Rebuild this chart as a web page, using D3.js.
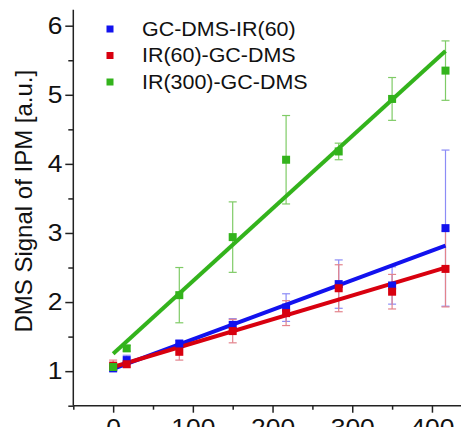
<!DOCTYPE html>
<html>
<head>
<meta charset="utf-8">
<script src="https://cdn.jsdelivr.net/npm/d3@7"></script>
<style>
  html, body { margin: 0; padding: 0; background: #fff; }
  svg { display: block; font-family: Arial, "Liberation Sans", sans-serif; }
</style>
</head>
<body>
<svg id="chart" width="461" height="427"></svg>
<script>
// Exposure time (x) and DMS signal of IPM for each setup
const times = [0, 17, 83, 150, 217, 283, 350, 417];

const seriesNames = ["GC-DMS-IR(60)", "IR(60)-GC-DMS", "IR(300)-GC-DMS"];
const seriesColors = ["#1212ee", "#d8000f", "#33b31c"];
const errorColors = ["#8c8cf6", "#e3838c", "#7fcb66"];

const gcDmsIr60 = [1.04, 1.16, 1.40, 1.67, 1.92, 2.26, 2.24, 3.07];
const gcDmsIr60Err = [0.03, 0.07, 0.04, 0.09, 0.20, 0.35, 0.27, 1.13];

const ir60GcDms = [1.08, 1.10, 1.28, 1.58, 1.84, 2.20, 2.15, 2.48];
const ir60GcDmsErr = [0.08, 0.04, 0.12, 0.17, 0.18, 0.34, 0.25, 0.55];

const ir300GcDms = [1.06, 1.33, 2.10, 2.94, 4.06, 4.18, 4.94, 5.35];
const ir300GcDmsErr = [0.05, 0.04, 0.40, 0.51, 0.64, 0.12, 0.31, 0.43];

const xMajorTicks = [0, 100, 200, 300, 400];
const xMinorTicks = [-50, 50, 150, 250, 350, 450];
const yMajorTicks = [1, 2, 3, 4, 5, 6];
const yMinorTicks = [0.5, 1.5, 2.5, 3.5, 4.5, 5.5];

const yTitle = "DMS Signal of IPM [a.u.]";

const series = [
  { name: seriesNames[0], values: gcDmsIr60, errors: gcDmsIr60Err, color: seriesColors[0], errColor: errorColors[0] },
  { name: seriesNames[1], values: ir60GcDms, errors: ir60GcDmsErr, color: seriesColors[1], errColor: errorColors[1] },
  { name: seriesNames[2], values: ir300GcDms, errors: ir300GcDmsErr, color: seriesColors[2], errColor: errorColors[2] }
];

const stretch = 1.1; // horizontal text widening

const svg = d3.select("#chart");

const x = d3.scaleLinear().domain([-50, 450]).range([73.3, 471.8]);
const y = d3.scaleLinear().domain([0.5, 6]).range([405.7, 25.7]);
const yTop = 6.23;

// least-squares straight line through each series
function linearFit(xs, ys) {
  const mx = d3.mean(xs), my = d3.mean(ys);
  let sxy = 0, sxx = 0;
  xs.forEach((xv, i) => { sxy += (xv - mx) * (ys[i] - my); sxx += (xv - mx) ** 2; });
  const slope = sxy / sxx;
  return { slope, intercept: my - slope * mx };
}

const axisColor = "#222";

// y axis
const yAxis = svg.append("g").attr("transform", `translate(${x(-50)},0)`);
yAxis.call(d3.axisLeft(y).tickValues(yMajorTicks).tickSize(8).tickSizeOuter(0).tickPadding(3).tickFormat(d3.format("d")));
yAxis.select(".domain").remove();
yAxis.append("line").attr("x1", 0).attr("x2", 0).attr("y1", y(yTop)).attr("y2", y(0.5))
  .attr("stroke", axisColor).attr("stroke-width", 1.5);
const yMinor = svg.append("g").attr("transform", `translate(${x(-50)},0)`);
yMinor.call(d3.axisLeft(y).tickValues(yMinorTicks).tickSize(5).tickFormat(""));
yMinor.select(".domain").remove();

// x axis
const xAxis = svg.append("g").attr("transform", `translate(0,${y(0.5)})`);
xAxis.call(d3.axisBottom(x).tickValues(xMajorTicks).tickSize(7).tickSizeOuter(0).tickPadding(6).tickFormat(d3.format("d")));
xAxis.select(".domain").remove();
xAxis.append("line").attr("x1", x(-50)).attr("x2", x(450)).attr("y1", 0).attr("y2", 0)
  .attr("stroke", axisColor).attr("stroke-width", 1.5);
const xMinor = svg.append("g").attr("transform", `translate(0,${y(0.5)})`);
xMinor.call(d3.axisBottom(x).tickValues(xMinorTicks).tickSize(4).tickFormat(""));
xMinor.select(".domain").remove();

svg.selectAll(".tick line").attr("stroke", axisColor).attr("stroke-width", 1.5);
svg.selectAll(".tick text")
  .attr("fill", "#111")
  .style("font-size", "24px")
  .style("font-family", "Arial, 'Liberation Sans', sans-serif")
  .each(function () {
    const t = d3.select(this);
    const xv = +t.attr("x") || 0;
    t.attr("x", xv / stretch).attr("transform", `scale(${stretch},1)`);
  });

// y axis title
svg.append("text")
  .attr("transform", `translate(32,${y(3.46)}) rotate(-90)`)
  .attr("text-anchor", "middle")
  .attr("fill", "#111")
  .style("font-size", "24px")
  .text(yTitle);

const plot = svg.append("g");

// error bars
series.forEach(s => {
  const g = plot.append("g").attr("stroke", s.errColor).attr("stroke-width", 1.2).attr("fill", "none");
  times.forEach((t, i) => {
    const cx = x(t), lo = y(s.values[i] - s.errors[i]), hi = y(s.values[i] + s.errors[i]);
    g.append("line").attr("x1", cx).attr("x2", cx).attr("y1", lo).attr("y2", hi);
    g.append("line").attr("x1", cx - 4).attr("x2", cx + 4).attr("y1", lo).attr("y2", lo);
    g.append("line").attr("x1", cx - 4).attr("x2", cx + 4).attr("y1", hi).attr("y2", hi);
  });
});

// fitted lines
series.forEach(s => {
  const fit = linearFit(times, s.values);
  const ends = d3.extent(times);
  plot.append("line")
    .attr("x1", x(ends[0])).attr("y1", y(fit.intercept + fit.slope * ends[0]))
    .attr("x2", x(ends[1])).attr("y2", y(fit.intercept + fit.slope * ends[1]))
    .attr("stroke", s.color).attr("stroke-width", 4);
});

// square markers
const ms = 8;
series.forEach(s => {
  plot.append("g").selectAll("rect").data(times).join("rect")
    .attr("x", (t) => x(t) - ms / 2)
    .attr("y", (t, i) => y(s.values[i]) - ms / 2)
    .attr("width", ms).attr("height", ms)
    .attr("fill", s.color);
});

// legend
const legend = svg.append("g");
const legendRows = [29, 55.5, 82];
series.forEach((s, i) => {
  legend.append("rect")
    .attr("x", 110 - 3.5).attr("y", legendRows[i] - 3.5)
    .attr("width", 7).attr("height", 7)
    .attr("fill", s.color);
  legend.append("text")
    .attr("transform", `translate(142,${legendRows[i] + 6.8}) scale(${stretch},1)`)
    .attr("fill", "#111")
    .style("font-size", "19.5px")
    .text(s.name);
});
</script>
</body>
</html>
